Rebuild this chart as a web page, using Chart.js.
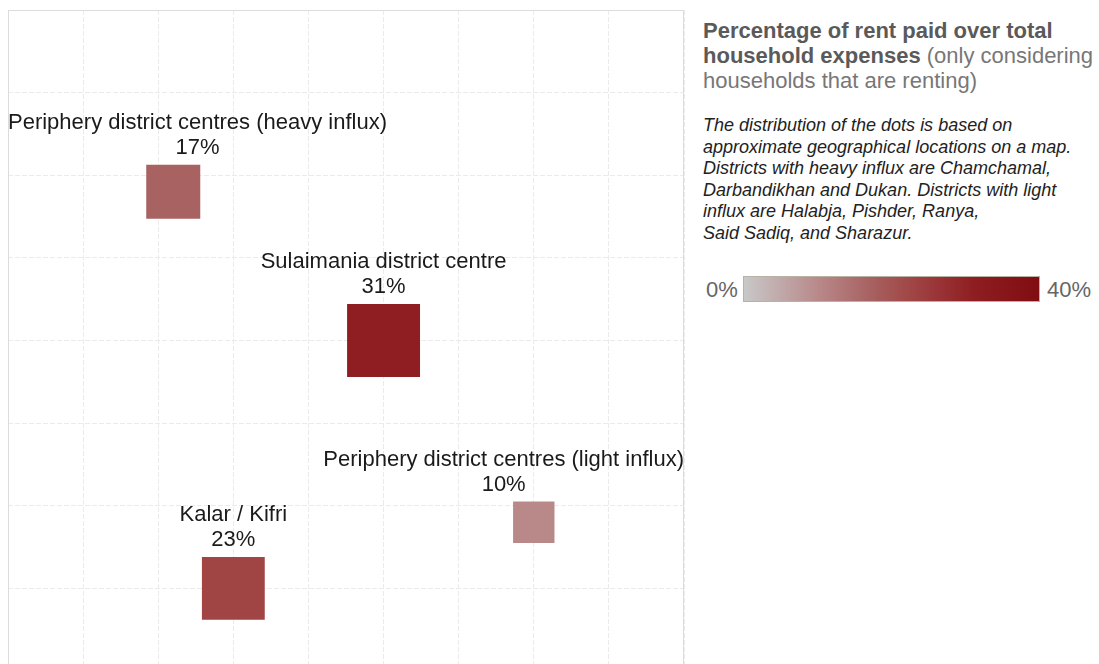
<!DOCTYPE html>
<html>
<head>
<meta charset="utf-8">
<script src="https://cdn.jsdelivr.net/npm/chart.js@4.4.1/dist/chart.umd.min.js"></script>
<style>
    html, body { margin: 0; padding: 0; background: #fff; overflow: hidden; }
    body { width: 1099px; height: 664px; position: relative; font-family: "Liberation Sans", Arial, sans-serif; }
    #wrap { position: absolute; left: 0; top: 0; width: 690px; height: 680px; }
    #side { position: absolute; left: 703px; top: 18px; width: 396px; }
    .title { font-size: 22px; line-height: 25px; color: #777; white-space: nowrap; }
    .title b { color: #5a5a5a; }
    .note { margin-top: 22px; font-size: 18px; line-height: 21.6px; font-style: italic; color: #222; white-space: nowrap; }
    .scale { position: absolute; left: 0; top: 258px; width: 396px; height: 28px; font-size: 22px; color: #666; }
    .scale span { position: absolute; top: 1px; line-height: 26px; }
    #bar { position: absolute; left: 40px; top: 0; width: 295px; height: 24px; border: 1px solid #b7b2a4; }
</style>
</head>
<body>
<div id="wrap"><canvas id="map"></canvas></div>
<div id="side">
    <div class="title"><b>Percentage of rent paid over total<br>household expenses</b> (only considering<br>households that are renting)</div>
    <div class="note">The distribution of the dots is based on<br>approximate geographical locations on a map.<br>Districts with heavy influx are Chamchamal,<br>Darbandikhan and Dukan. Districts with light<br>influx are Halabja, Pishder, Ranya,<br>Said Sadiq, and Sharazur.</div>
    <div class="scale">
        <span style="left:3px">0%</span>
        <div id="bar"></div>
        <span style="left:344px">40%</span>
    </div>
</div>
<script>
// ------------------------------------------------------
// data: share of rent over household expenses (%)
// positions are approximate map locations (grid units)
// ------------------------------------------------------
const districts = [
    "Periphery district centres (heavy influx)",
    "Sulaimania district centre",
    "Periphery district centres (light influx)",
    "Kalar / Kifri"
];
const rentShare = [17, 31, 10, 23];
const mapX = [2.2, 5.0, 7.0, 3.0];
const mapY = [5.8, 4.0, 1.8, 1.0];

// colour ramp 0% -> 40%
const rampValues = [0, 10, 17, 23, 31, 40];
const rampColors = [
    [200, 200, 200],
    [185, 137, 138],
    [168, 98, 98],
    [160, 68, 68],
    [143, 30, 34],
    [127, 13, 18]
];

function rampColor(v) {
    for (let i = 1; i < rampValues.length; i++) {
        if (v <= rampValues[i]) {
            const t = (v - rampValues[i - 1]) / (rampValues[i] - rampValues[i - 1]);
            const a = rampColors[i - 1], b = rampColors[i];
            const c = a.map((ch, k) => Math.round(ch + (b[k] - ch) * t));
            return `rgb(${c[0]},${c[1]},${c[2]})`;
        }
    }
    const c = rampColors[rampColors.length - 1];
    return `rgb(${c[0]},${c[1]},${c[2]})`;
}

// square side grows with sqrt of value (area ~ value)
function sideOf(v) { return 13.1 * Math.sqrt(v); }

// legend gradient bar
document.getElementById("bar").style.background =
    "linear-gradient(to right, " +
    rampValues.map((v, i) => `${rampColor(v)} ${(v / 40 * 100).toFixed(1)}%`).join(", ") + ")";

// plot frame
const framePlugin = {
    id: "frame",
    afterDraw(chart) {
        const { ctx, chartArea: a } = chart;
        ctx.save();
        ctx.strokeStyle = "#dcdcdc";
        ctx.lineWidth = 1;
        ctx.strokeRect(a.left + 0.5, a.top + 0.5, a.right - a.left - 1, a.bottom - a.top);
        ctx.restore();
    }
};

// labels above each square, kept inside the plot area
const labelPlugin = {
    id: "squareLabels",
    afterDatasetsDraw(chart) {
        const { ctx, chartArea, scales: { x, y } } = chart;
        ctx.save();
        ctx.font = '22px "Liberation Sans", Arial, sans-serif';
        ctx.fillStyle = "#1a1a1a";
        ctx.textAlign = "center";
        ctx.textBaseline = "middle";
        districts.forEach((name, i) => {
            const px = x.getPixelForValue(mapX[i]);
            const py = y.getPixelForValue(mapY[i]);
            const half = sideOf(rentShare[i]) / 2;
            const pct = rentShare[i] + "%";
            const w = Math.max(ctx.measureText(name).width, ctx.measureText(pct).width);
            const cx = Math.min(Math.max(px, chartArea.left + w / 2), chartArea.right - w / 2);
            ctx.fillText(pct, cx, py - half - 17);
            ctx.fillText(name, cx, py - half - 42);
        });
        ctx.restore();
    }
};

const gridStyle = {
    color: "#ebebeb",
    lineWidth: 1,
    drawTicks: false
};

new Chart(document.getElementById("map"), {
    type: "scatter",
    data: {
        datasets: [{
            data: rentShare.map((v, i) => ({ x: mapX[i], y: mapY[i] })),
            pointStyle: "rect",
            pointRadius: rentShare.map(v => sideOf(v) / Math.SQRT2),
            pointHoverRadius: rentShare.map(v => sideOf(v) / Math.SQRT2),
            backgroundColor: rentShare.map(v => rampColor(v)),
            borderWidth: 0
        }]
    },
    options: {
        responsive: true,
        maintainAspectRatio: false,
        animation: false,
        layout: { autoPadding: false, padding: { left: 8, top: 10, right: 6, bottom: 9 } },
        plugins: { legend: { display: false }, tooltip: { enabled: false } },
        scales: {
            x: {
                min: 0, max: 9,
                ticks: { display: false, stepSize: 1 },
                grid: gridStyle,
                border: { display: false, dash: [5, 2] }
            },
            y: {
                min: 0, max: 8,
                ticks: { display: false, stepSize: 1 },
                grid: gridStyle,
                border: { display: false, dash: [5, 2] }
            }
        }
    },
    plugins: [framePlugin, labelPlugin]
});
</script>
</body>
</html>
